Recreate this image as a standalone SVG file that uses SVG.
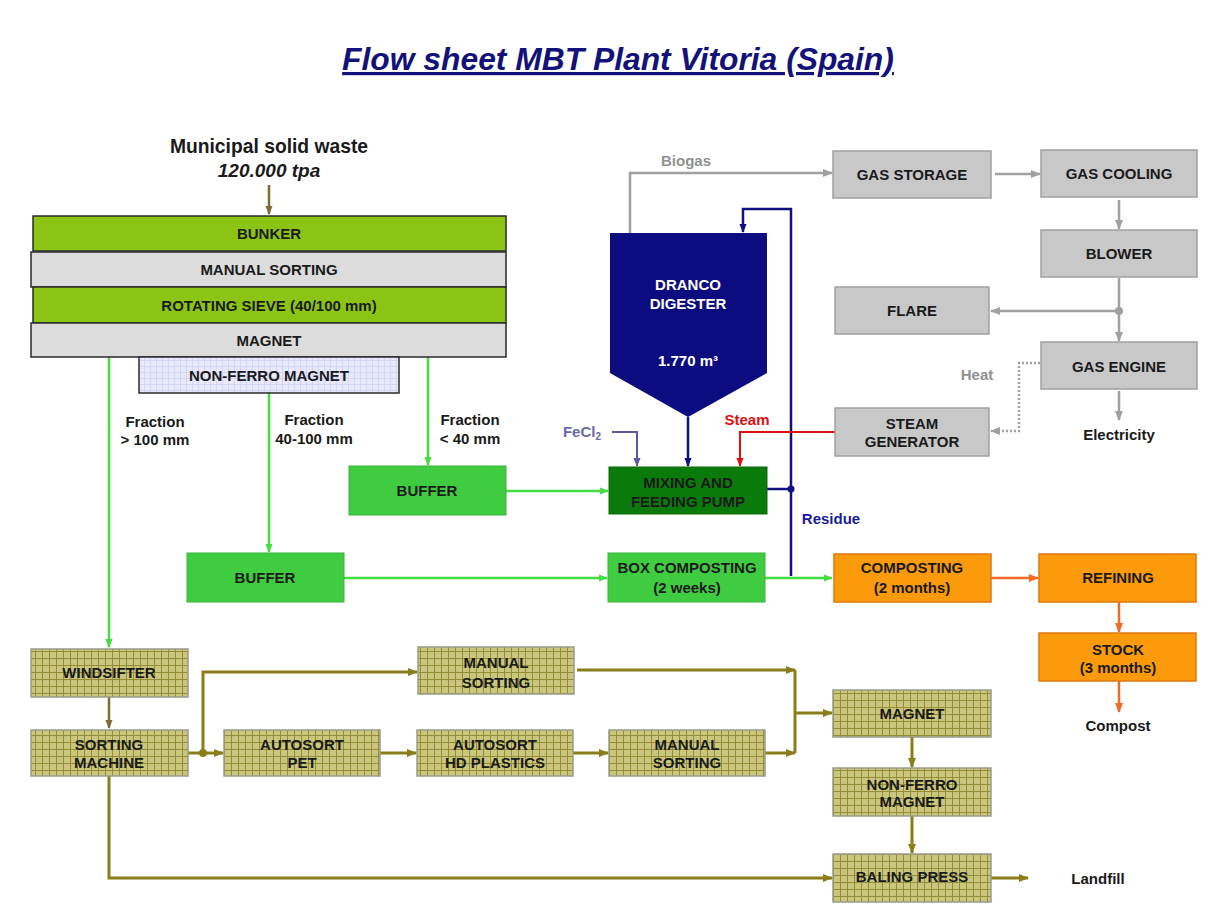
<svg xmlns="http://www.w3.org/2000/svg" width="1213" height="918" viewBox="0 0 1213 918">
<style>
text{font-family:"Liberation Sans",Arial,sans-serif;font-weight:bold;font-size:15px;fill:#1a1a1a;text-anchor:middle}
.title{font-size:31.8px;font-style:italic;fill:#12127a;text-decoration:underline}
.big{font-size:19.3px}
.bigi{font-size:19px;font-style:italic}
.lg{fill:#8cc414;stroke:#2a2a2a;stroke-width:1.5}
.gy{fill:#dcdcdc;stroke:#2a2a2a;stroke-width:1.5}
.nf{fill:url(#lav);stroke:#2a2a2a;stroke-width:1.5}
.bg{fill:#40cc40;stroke:#3bb33b;stroke-width:1}
.dg{fill:#0a7a0a;stroke:#0a6a0a;stroke-width:1}
.gas{fill:#c8c8c8;stroke:#a0a0a0;stroke-width:1.5}
.or{fill:#fb9a0a;stroke:#e07810;stroke-width:1.5}
.ol{fill:url(#grid);stroke:#9a9a8a;stroke-width:1.5}
.w{fill:#ffffff}
.gtx{fill:#909090}
.c{fill:none}
.cg{stroke:#44dd44;stroke-width:2.5;marker-end:url(#mG)}
.cn{stroke:#101080;stroke-width:2.5}
.cgy{stroke:#a0a0a0;stroke-width:2.5}
.co{stroke:#8a7d1a;stroke-width:3}
.cb{stroke:#7d6d35;stroke-width:2.5;marker-end:url(#mB)}
.cor{stroke:#f06a22;stroke-width:2.5;marker-end:url(#mO)}
</style>
<defs>
<pattern id="grid" width="7" height="7" patternUnits="userSpaceOnUse">
<rect width="7" height="7" fill="#cbc67e"/>
<path d="M0 0.5H7M0.5 0V7" stroke="#928d36" stroke-width="1"/>
</pattern>
<pattern id="lav" width="6" height="6" patternUnits="userSpaceOnUse">
<rect width="6" height="6" fill="#e8e8ff"/>
<path d="M0 0.5H6M0.5 0V6" stroke="#d0d0f4" stroke-width="0.8"/>
</pattern>
<marker id="mG" viewBox="0 0 10 10" refX="9" refY="5" markerWidth="9" markerHeight="9" markerUnits="userSpaceOnUse" orient="auto"><path d="M0 1L10 5L0 9z" fill="#44dd44"/></marker>
<marker id="mN" viewBox="0 0 10 10" refX="9" refY="5" markerWidth="9" markerHeight="9" markerUnits="userSpaceOnUse" orient="auto"><path d="M0 1L10 5L0 9z" fill="#101080"/></marker>
<marker id="mGy" viewBox="0 0 10 10" refX="9" refY="5" markerWidth="10" markerHeight="10" markerUnits="userSpaceOnUse" orient="auto"><path d="M0 1L10 5L0 9z" fill="#a0a0a0"/></marker>
<marker id="mOl" viewBox="0 0 10 10" refX="9" refY="5" markerWidth="10" markerHeight="10" markerUnits="userSpaceOnUse" orient="auto"><path d="M0 1L10 5L0 9z" fill="#8a7d1a"/></marker>
<marker id="mB" viewBox="0 0 10 10" refX="9" refY="5" markerWidth="9" markerHeight="9" markerUnits="userSpaceOnUse" orient="auto"><path d="M0 1L10 5L0 9z" fill="#7d6d35"/></marker>
<marker id="mO" viewBox="0 0 10 10" refX="9" refY="5" markerWidth="10" markerHeight="10" markerUnits="userSpaceOnUse" orient="auto"><path d="M0 1L10 5L0 9z" fill="#f06a22"/></marker>
<marker id="mR" viewBox="0 0 10 10" refX="9" refY="5" markerWidth="9" markerHeight="9" markerUnits="userSpaceOnUse" orient="auto"><path d="M0 1L10 5L0 9z" fill="#e01010"/></marker>
<marker id="mS" viewBox="0 0 10 10" refX="9" refY="5" markerWidth="9" markerHeight="9" markerUnits="userSpaceOnUse" orient="auto"><path d="M0 1L10 5L0 9z" fill="#5a5aa0"/></marker>
</defs>
<rect width="1213" height="918" fill="#ffffff"/>
<text class="title" x="618" y="70">Flow sheet MBT Plant Vitoria (Spain)</text>

<g id="connectors" class="c">
<path class="cb" d="M269 185V214"/>
<path class="cg" d="M109 357V647"/>
<path class="cg" d="M269 393V552"/>
<path class="cg" d="M428 357V465"/>
<path class="cg" d="M506 491H608"/>
<path class="cg" d="M344 578H607"/>
<path class="cg" d="M765 578H832"/>
<path class="cn" marker-end="url(#mN)" d="M688 417V466"/>
<path class="cn" d="M767 489H791"/>
<path class="cn" marker-end="url(#mN)" d="M791 576V209H743V232"/>
<circle cx="791" cy="489" r="3.5" fill="#101080"/>
<path stroke="#5a5aa0" stroke-width="2" marker-end="url(#mS)" d="M612 432H637V466"/>
<path stroke="#e01010" stroke-width="2" marker-end="url(#mR)" d="M835 432H740V466"/>
<path class="cgy" marker-end="url(#mGy)" d="M630 233V173H832"/>
<path class="cgy" marker-end="url(#mGy)" d="M995 174H1040"/>
<path class="cgy" marker-end="url(#mGy)" d="M1119 200V229"/>
<path class="cgy" marker-end="url(#mGy)" d="M1119 278V341"/>
<path class="cgy" marker-end="url(#mGy)" d="M1119 311H991"/>
<circle cx="1119" cy="311" r="4" fill="#a0a0a0"/>
<path class="cgy" marker-end="url(#mGy)" d="M1119 391V420"/>
<path stroke="#a0a0a0" stroke-width="2.5" stroke-dasharray="2 2" marker-end="url(#mGy)" d="M1040 363H1019V431H991"/>
<path class="cor" d="M991 578H1038"/>
<path class="cor" d="M1119 602V632"/>
<path class="cor" d="M1119 681V712"/>
<path class="cb" d="M109 697V728"/>
<path class="co" marker-end="url(#mOl)" d="M188 753H223"/>
<path class="co" marker-end="url(#mOl)" d="M203 753V672H417"/>
<circle cx="203" cy="753" r="4" fill="#8a7d1a"/>
<path class="co" marker-end="url(#mOl)" d="M380 753H416"/>
<path class="co" marker-end="url(#mOl)" d="M573 753H608"/>
<path class="co" marker-end="url(#mOl)" d="M577 670H795"/>
<path class="co" marker-end="url(#mOl)" d="M765 753H795"/>
<path class="co" d="M795 670V753"/>
<path class="co" marker-end="url(#mOl)" d="M795 713H832"/>
<path class="co" marker-end="url(#mOl)" d="M912 737V767"/>
<path class="co" marker-end="url(#mOl)" d="M912 816V853"/>
<path class="co" marker-end="url(#mOl)" d="M109 776V878H832"/>
<path class="co" marker-end="url(#mOl)" d="M991 878H1028"/>
</g>

<g id="labels">
<text class="big" x="269" y="153">Municipal solid waste</text>
<text class="bigi" x="269" y="177">120.000 tpa</text>
<text x="155" y="427">Fraction</text>
<text x="155" y="445">&gt; 100 mm</text>
<text x="314" y="425">Fraction</text>
<text x="314" y="444">40-100 mm</text>
<text x="470" y="425">Fraction</text>
<text x="470" y="444">&lt; 40 mm</text>
<text class="gtx" x="686" y="166">Biogas</text>
<text x="582" y="437" style="fill:#6a6aa8">FeCl<tspan font-size="10" dy="3">2</tspan></text>
<text x="747" y="425" style="fill:#e01010">Steam</text>
<text x="831" y="524" style="fill:#1a1aa0">Residue</text>
<text class="gtx" x="977" y="380">Heat</text>
<text x="1119" y="440">Electricity</text>
<text x="1118" y="731">Compost</text>
<text x="1098" y="884">Landfill</text>
</g>

<g id="bunker"><rect class="lg" x="33" y="216" width="473" height="35"/><text x="269" y="239">BUNKER</text></g>
<g id="manual-sorting-top"><rect class="gy" x="31" y="252" width="475" height="35"/><text x="269" y="275">MANUAL SORTING</text></g>
<g id="rotating-sieve"><rect class="lg" x="33" y="287" width="473" height="36"/><text x="269" y="311">ROTATING SIEVE (40/100 mm)</text></g>
<g id="magnet-top"><rect class="gy" x="31" y="323" width="475" height="34"/><text x="269" y="346">MAGNET</text></g>
<g id="nonferro-top"><rect class="nf" x="139" y="357" width="260" height="36"/><text x="269" y="381">NON-FERRO MAGNET</text></g>

<g id="buffer1"><rect class="bg" x="349" y="466" width="157" height="49"/><text x="427" y="496">BUFFER</text></g>
<g id="buffer2"><rect class="bg" x="187" y="553" width="157" height="49"/><text x="265" y="583">BUFFER</text></g>
<g id="digester"><path d="M610 233H767V373L688 417L610 373Z" fill="#0c0c80"/><text class="w" x="688" y="290">DRANCO</text><text class="w" x="688" y="309">DIGESTER</text><text class="w" x="688" y="366">1.770 m³</text></g>
<g id="mixing"><rect class="dg" x="609" y="467" width="158" height="47"/><text x="688" y="488">MIXING AND</text><text x="688" y="507">FEEDING PUMP</text></g>
<g id="box-composting"><rect class="bg" x="608" y="553" width="157" height="49"/><text x="687" y="573">BOX COMPOSTING</text><text x="687" y="593">(2 weeks)</text></g>

<g id="gas-storage"><rect class="gas" x="833" y="151" width="158" height="47"/><text x="912" y="180">GAS STORAGE</text></g>
<g id="gas-cooling"><rect class="gas" x="1041" y="150" width="156" height="47"/><text x="1119" y="179">GAS COOLING</text></g>
<g id="blower"><rect class="gas" x="1041" y="230" width="156" height="47"/><text x="1119" y="259">BLOWER</text></g>
<g id="flare"><rect class="gas" x="835" y="287" width="154" height="47"/><text x="912" y="316">FLARE</text></g>
<g id="gas-engine"><rect class="gas" x="1041" y="342" width="156" height="47"/><text x="1119" y="372">GAS ENGINE</text></g>
<g id="steam-generator"><rect class="gas" x="835" y="408" width="154" height="48"/><text x="912" y="429">STEAM</text><text x="912" y="447">GENERATOR</text></g>

<g id="composting"><rect class="or" x="834" y="554" width="157" height="48"/><text x="912" y="573">COMPOSTING</text><text x="912" y="593">(2 months)</text></g>
<g id="refining"><rect class="or" x="1039" y="554" width="157" height="48"/><text x="1118" y="583">REFINING</text></g>
<g id="stock"><rect class="or" x="1039" y="633" width="157" height="48"/><text x="1118" y="655">STOCK</text><text x="1118" y="673">(3 months)</text></g>

<g id="windsifter"><rect class="ol" x="31" y="649" width="157" height="48"/><text x="109" y="678">WINDSIFTER</text></g>
<g id="sorting-machine"><rect class="ol" x="31" y="730" width="157" height="46"/><text x="109" y="750">SORTING</text><text x="109" y="768">MACHINE</text></g>
<g id="autosort-pet"><rect class="ol" x="224" y="730" width="156" height="46"/><text x="302" y="750">AUTOSORT</text><text x="302" y="768">PET</text></g>
<g id="manual-sorting-1"><rect class="ol" x="418" y="647" width="156" height="47"/><text x="496" y="668">MANUAL</text><text x="496" y="688">SORTING</text></g>
<g id="autosort-hd"><rect class="ol" x="417" y="730" width="156" height="46"/><text x="495" y="750">AUTOSORT</text><text x="495" y="768">HD PLASTICS</text></g>
<g id="manual-sorting-2"><rect class="ol" x="609" y="730" width="156" height="46"/><text x="687" y="750">MANUAL</text><text x="687" y="768">SORTING</text></g>
<g id="magnet-bottom"><rect class="ol" x="833" y="690" width="158" height="47"/><text x="912" y="719">MAGNET</text></g>
<g id="nonferro-bottom"><rect class="ol" x="833" y="768" width="158" height="48"/><text x="912" y="790">NON-FERRO</text><text x="912" y="807">MAGNET</text></g>
<g id="baling-press"><rect class="ol" x="833" y="854" width="158" height="48"/><text x="912" y="882">BALING PRESS</text></g>
</svg>
